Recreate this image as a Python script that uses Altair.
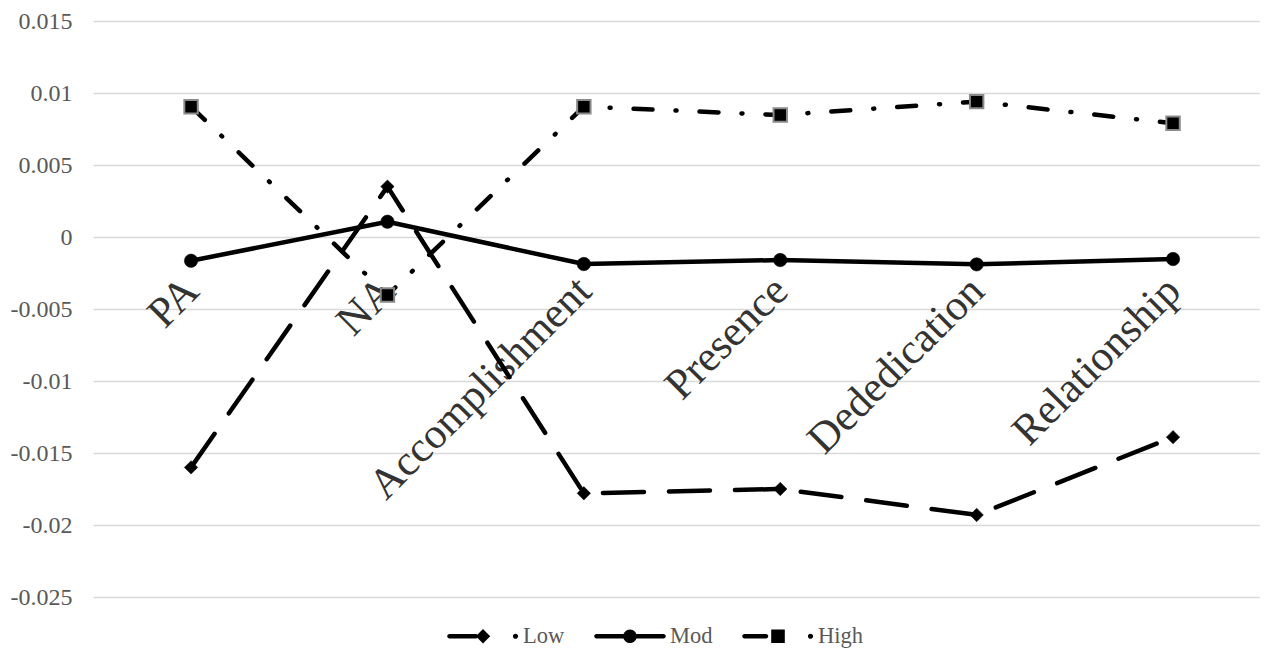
import altair as alt
import pandas as pd

categories = ["PA", "NA", "Accomplishment", "Presence", "Dededication", "Relationship"]
series_names = ["Low", "Mod", "High"]
low = [-0.0160, 0.0035, -0.0178, -0.0175, -0.0193, -0.0139]
mod = [-0.00165, 0.00106, -0.00188, -0.0016, -0.0019, -0.00153]
high = [0.00905, -0.00403, 0.00905, 0.00847, 0.0094, 0.0079]
y_ticks = [0.015, 0.01, 0.005, 0, -0.005, -0.01, -0.015, -0.02, -0.025]

rows = []
for name, vals in zip(series_names, [low, mod, high]):
    for c, v in zip(categories, vals):
        rows.append({"cat": c, "series": name, "value": v})
df = pd.DataFrame(rows)
labels_df = pd.DataFrame({"cat": categories, "value": [0.0] * len(categories)})

SERIF = "Liberation Serif"

x_enc = alt.X("cat:N", sort=categories,
              scale=alt.Scale(type="point", padding=0.471, align=0.53),
              axis=None)
y_enc = alt.Y("value:Q",
              scale=alt.Scale(domain=[-0.025, 0.015], nice=False, zero=False),
              axis=alt.Axis(values=y_ticks, labelExpr="'' + datum.value", title=None,
                            domain=False, ticks=False, tickSize=0, labelPadding=21,
                            grid=True, gridColor="#d9d9d9", gridWidth=1.3,
                            labelFont=SERIF, labelFontSize=24, labelColor="#595959"))

text_layer = alt.Chart(labels_df).mark_text(
    angle=315, align="right", baseline="alphabetic", dx=-33, dy=47,
    font=SERIF, fontSize=43, color="#333333"
).encode(x=x_enc, y=y_enc, text="cat:N")

line_styles = {"Low": [41, 25], "Mod": None, "High": [19, 23, 1, 23]}
point_styles = {
    "Low": dict(shape="diamond", size=180, fill="black", stroke="black", strokeWidth=0.5),
    "Mod": dict(shape="circle", size=180, fill="black", stroke="black", strokeWidth=0.5),
    "High": dict(shape="square", size=180, fill="black", stroke="#8a8a8a", strokeWidth=2),
}

layers = [text_layer]
for name in series_names:
    base = alt.Chart(df).transform_filter(alt.datum.series == name)
    lk = dict(color="black", strokeWidth=4.5, strokeCap="round", strokeJoin="round")
    if line_styles[name]:
        lk["strokeDash"] = line_styles[name]
    layers.append(base.mark_line(**lk).encode(x=x_enc, y=y_enc))
    layers.append(base.mark_point(filled=True, opacity=1, **point_styles[name]).encode(x=x_enc, y=y_enc))

# ---- legend symbols: line + marker drawn as filled custom paths (pixel units / S) ----
SYM_PX = 72.0
S = SYM_PX / 2.0
H = 2.25  # half line thickness in px


def f(v):
    return f"{v / S:.4f}"


def seg(x1, x2, h=H):
    return (f"M{f(x1)},{f(-h)}L{f(x2)},{f(-h)}A{f(h)},{f(h)} 0 0,1 {f(x2)},{f(h)}"
            f"L{f(x1)},{f(h)}A{f(h)},{f(h)} 0 0,1 {f(x1)},{f(-h)}Z")


def circ(cx, r):
    return (f"M{f(cx - r)},0A{f(r)},{f(r)} 0 1,1 {f(cx + r)},0"
            f"A{f(r)},{f(r)} 0 1,1 {f(cx - r)},0Z")


def diamond(r):
    return f"M0,{f(-r)}L{f(r)},0L0,{f(r)}L{f(-r)},0Z"


def square(s):
    return f"M{f(-s)},{f(-s)}L{f(s)},{f(-s)}L{f(s)},{f(s)}L{f(-s)},{f(s)}Z"


legend_paths = [
    seg(-33.5, -7) + diamond(7.2) + circ(32.5, 2.6),
    seg(-33.5, -5.2) + circ(0, 6.8) + seg(5.2, 33.5),
    seg(-33.5, -12) + square(6.8) + circ(32.5, 2.6),
]
leg = alt.Legend(title=None, orient="none", legendX=354, legendY=579, direction="horizontal",
                 symbolSize=SYM_PX * SYM_PX, symbolStrokeWidth=0, symbolOpacity=1,
                 symbolFillColor="black",
                 labelFont=SERIF, labelFontSize=22.5, labelColor="#595959",
                 labelOffset=4, columnPadding=29, padding=0)
dummy = alt.Chart(df).transform_filter("datum.value > 1").mark_point(
    filled=True, color="black", opacity=1
).encode(
    x=x_enc, y=y_enc,
    shape=alt.Shape("series:N", scale=alt.Scale(domain=series_names, range=legend_paths), legend=leg),
)
layers.append(dummy)

chart = alt.layer(*layers).properties(
    width=1167, height=576,
    autosize=alt.AutoSizeParams(type="none"),
    padding={"left": 85, "top": 13, "right": 0, "bottom": 57},
    background="white",
).configure_view(stroke=None)

chart.save("out.html", embed_options={"renderer": "svg", "actions": False})
